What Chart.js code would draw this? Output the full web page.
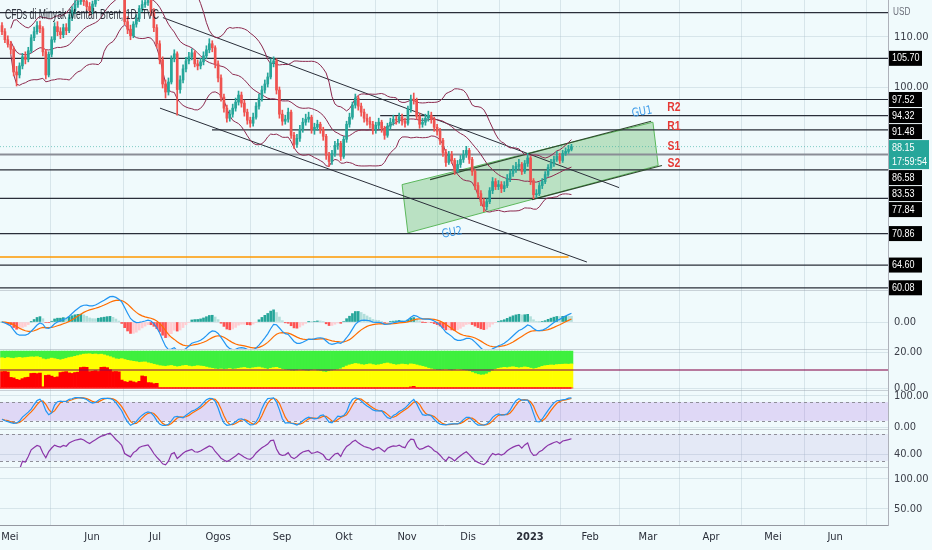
<!DOCTYPE html>
<html><head><meta charset="utf-8">
<script src="https://cdn.jsdelivr.net/npm/chart.js@4.4.1/dist/chart.umd.min.js"></script>
<style>html,body{margin:0;padding:0;background:#f0fafc;}#wrap{position:relative;width:932px;height:550px;}</style>
</head><body><div id="wrap"><canvas id="c"></canvas></div>
<script>
// ---------- DATA ----------
const title = 'CFDs di Minyak Mentah Brent, 1D, TVC';
const firstOpen = 112.2;
const closes = [111,109.4,108.5,107.5,103,102.4,104.2,106,105.5,107.2,
109.8,111,112.2,111.6,107,102.4,106.5,109.4,112,111,
110.4,111.8,111.2,113.8,115.2,116.4,117,117.6,117,116,
115.2,116.5,117.8,119.5,120.8,121.5,122.8,123.6,122.4,121,
119.8,118.2,113,111.5,110.2,112.5,113.6,115.6,116.4,116.8,
117.2,115,111.8,108.6,105.4,100.6,99,101,105.6,106.6,
99.5,101.4,103.6,105.2,106,106.8,104.6,104.2,105,106.2,
107.4,108.6,107.8,104.6,101.8,98,95.8,93.8,94.6,95.8,
97,98.4,96.8,95,93.4,92.8,94,96.2,97.8,99.4,
100.6,102,104.8,105.2,99.4,94.6,93.2,93.6,95,90.4,
88.6,89.8,91.6,93,93.6,94,91.6,92,92.6,91.6,
90.2,86.4,85.2,86.8,88.4,88.8,86.2,89.6,92.6,94,
96.4,97.8,96.2,95,93.8,93.2,92.6,91.4,92.4,93,
91.8,90.4,92.2,93,93.6,93.4,94,93.2,92.8,95.6,
97.6,97.4,94.2,92.6,93,93.8,94.4,93.6,92,91.2,
89.4,87,85,86.6,85.4,83.4,84.6,85.6,86.6,87.4,
85.6,83.2,80.4,78.8,77.2,76.2,77.2,79.4,81.2,80.2,
80.6,79.8,80.4,81.8,82.8,83.6,84.2,84.6,83.2,84.8,
85.9,81.4,78.6,78.8,80.4,81.2,82.6,84,84.8,85.6,
86.2,85.4,86.8,87.2,87.6,88.15];
const highs = [112.8,111.6,110.2,109.1,108,104.1,104.8,106.7,107,107.9,
110.4,111.9,113,113.1,112,107.5,107,110,112.8,113,
111.8,112.5,112.6,114.4,116,117.2,117.9,118.8,118.4,117.8,
116.8,117.1,118.6,120.2,121.6,122.6,123.7,124.6,124.2,123,
121.8,120.4,118.6,114,112.3,113,114.4,116.2,117.2,117.8,
118.2,117.6,115.6,112.4,109.2,106,101.4,101.8,106.2,107.4,
107,102.2,104.4,105.9,106.9,107.6,107.2,105.4,105.7,107,
108.2,109.6,109.2,108.2,105.2,102.4,98.6,96.4,95.4,96.6,
97.8,99.2,99,97.4,95.6,94,94.8,96.9,98.6,100.2,
101.4,102.8,105.6,106,105.6,100,95.4,94.4,95.8,95.4,
91,90.6,92.4,93.8,94.6,95,94.4,92.8,93.4,93,
92,90.6,87,87.4,89.2,89.6,89.2,90.2,93.2,94.8,
97,98.6,98.2,96.8,95.6,94.6,94,93.2,93,93.8,
93.4,92.2,92.8,93.8,94.4,94.2,94.8,94.6,93.8,96.2,
98.4,98.8,97.8,94.8,93.8,94.6,95.2,95,94,92.6,
91.8,89.8,87.6,87.2,87.2,85.8,85.4,86.4,87.4,88.2,
87.8,86,83.6,81,79.4,77.8,77.8,80,82,81.8,
81.4,81.2,81.2,82.6,83.6,84.4,85,85.6,85,85.4,
86.8,86.2,81.8,79.6,81,81.8,83.2,84.6,85.6,86.2,
87.2,86.8,87.4,87.9,88.4,88.6];
const lows = [110.4,108.8,107.9,106.6,102.2,100.2,101.8,103.6,104.6,105,
106.8,109.2,110.5,110.8,106.2,101.6,102,106,108.9,110.2,
109.6,109.8,110.4,110.8,113.2,114.6,115.8,116.4,116.2,115.2,
114.2,114.6,116,117.2,119,120.2,121,122.2,121.6,120.2,
118.9,117.4,112.4,110.6,109.4,109.8,111.9,113,115,115.8,
116.2,114.2,111,107.8,104.6,99.8,97.8,98.4,100.6,105,
94.4,98.8,100.8,103,104.6,105.4,104,103.4,103.6,104.4,
105.6,106.8,107,103.8,101,97.2,95,93,93.2,94,
95.2,96.4,96,94.2,92.6,92,92.2,93.6,95.6,97.2,
98.8,100,101.6,104,98.6,93.8,92.4,92.6,93,89.8,
87.8,88,89.2,91,92.4,93,90.8,90.6,91.4,90.8,
89.4,85.6,84.2,84.6,86.2,87.6,85.4,85.8,89,92,
93.6,95.8,95.4,94.2,93,92.4,91.8,90.6,90.8,91.6,
91,89.6,90,91.6,92.4,92.6,92.8,92.4,92,92.4,
95,96.6,93.6,91.8,92,92.4,93.2,92.8,91.2,90.4,
88.6,86.2,84.2,84.6,84.8,82.6,83,84,85,86,
84.8,82.4,79.6,78,76.4,75.2,75.6,76.8,78.8,79.6,
79.6,79,79.2,80,81.2,82.2,83,83.6,82.6,82.8,
84.2,80.6,77.8,78,78.4,79.8,80.8,82.2,83.4,84.2,
85.2,84.8,85,86.4,86.8,87.3];
// third pane (stacked red / yellow / green)
const yellowTop = [16.8,16.5,16.9,16.6,16.4,16.8,17,16.7,16.9,17.1,
17.3,17.2,17.4,17,16.2,15.8,16.1,16.6,16.3,15.9,
15.6,16,16.4,16.9,17.2,17.6,18,18.4,18.8,18.9,
19,18.7,18.9,18.6,18.8,18.4,17.9,17.4,16.8,16.2,
16,16.3,15.8,15.4,15.1,14.8,14.6,14.2,14.4,14.5,
14,13.6,13.2,12.8,12.4,12.2,12,12.3,12.5,12.1,
11.8,12,12.4,12.6,12.2,11.9,12.1,12.4,12.2,12,
11.6,11.2,10.9,10.6,10.4,10.6,10.3,10.5,10.8,10.4,
10.6,10.9,11.2,11.4,11,10.8,11.2,11.4,11.6,11.2,
10.8,10.4,10.9,11.3,11.5,10.9,10.4,10,9.8,9.6,
9.5,9.7,10,9.8,9.6,9.4,9.8,10,9.6,9.4,
9,8.8,9.2,9.6,9.9,10.2,10.6,11.4,12.2,12.8,
13.2,13.6,13.4,13,12.8,13.1,13.4,13,12.7,12.9,
13.2,13.6,13.9,13.5,13.1,12.8,13,13.3,13.1,12.9,
13.4,13.2,12.8,12.4,12,11.6,11,10.6,10.2,9.9,
9.8,10,10.2,9.9,9.7,10,10.3,10.1,9.8,9.6,
9.2,8.6,8,7.5,7.2,7.3,7.8,8.6,9.6,10.4,
10.9,11.2,11.5,11.3,11.6,11.8,11.5,11.2,11.4,11.7,
11.5,11,10.6,10.9,11.4,12,12.4,12.6,12.8,12.7,
13,13.1,13.2,13.3,13.2,13.4];
const redLevel = [9.1,9.2,8.9,5.9,5.6,4.8,4.4,5.2,5.8,6,
8.1,8.2,8,8.3,0.7,7,7.2,6.6,5.9,6.2,
8.6,8.9,9.1,8.4,8.1,8.6,8.8,11.4,11.6,11.5,
9.1,9.3,9.6,9.2,11.5,11.6,11.3,10.2,9.1,9.2,
9,4.4,3.6,3.2,3.9,3.4,3,3.7,6.7,6.4,
3,2.9,2.4,2.6];
const redBlips = [[140,0.6],[141,0.9]];
const greenTop = 20.5;
// axis
const monthLabels = ['Mei','Jun','Jul','Ogos','Sep','Okt','Nov','Dis','2023','Feb','Mar','Apr','Mei','Jun'];
const monthPos = [2.7,30.8,52.4,74,95.9,117.1,138.7,159.6,180.8,201.4,221.2,242.8,264,285.3];
const xMin = -0.685, xMax = 303.4;
// horizontal levels
const levelPrices = [114.8,105.70,97.52,94.32,91.48,86.58,83.53,77.84,70.86,64.60,60.08];
const levelStart  = [xMin,xMin,xMin,129.5,71.9,xMin,xMin,xMin,xMin,xMin,xMin];
const levelLabelled = [false,true,true,true,true,true,true,true,true,true,true];
const orangeLevel = 66.2, orangeEnd = 194;
const lastPrice = 88.15, countdown = '17:59:54';
// drawn lines: [x0, p0, x1, p1]
const trendLines = [[55.1,113.8,211.3,80.0],[54.1,95.8,200.3,65.2]];
const guLines = [[146.6,81.6,222.3,93.2],[181.5,77.6,226,84.4]];
const channelPoly = [[137,80.6],[222.9,93],[224.7,84.4],[139,71]];
const noteTexts = ['R2','R1','S1','S2'];
const notePrices = [96,92.2,88.2,84.8];
const noteX = 230.1;
const guTexts = ['GU1','GU2'];
const guPos = [[219.2,95],[154.1,71]];
// pane tick labels
const ticksMain = [110,100], ticksMacd = [0], ticksP3 = [20,0], ticksStoch = [100,0], ticksRsi = [40], ticksEmpty = [100,50];

// ---------- derived ----------
const N = closes.length;
const idx = closes.map((_, i) => i);
const opens = closes.map((c, i) => i === 0 ? firstOpen : closes[i - 1]);
const UP = '#26a69a', DN = '#ef5350';
const cCol = closes.map((c, i) => c >= opens[i] ? UP : DN);
function ema(a, n) { const k = 2 / (n + 1), o = []; a.forEach((v, i) => o.push(i === 0 ? v : v * k + o[i - 1] * (1 - k))); return o; }
function sma(a, n) { return a.map((v, i) => { const w = a.slice(Math.max(0, i - n + 1), i + 1); return w.reduce((s, x) => s + x, 0) / w.length; }); }
const e12 = ema(closes, 12), e26 = ema(closes, 26);
const macd = e12.map((v, i) => v - e26[i]);
const sig = ema(macd, 9);
const hist = macd.map((v, i) => v - sig[i]);
const histCol = hist.map((h, i) => { const p = i ? hist[i - 1] : 0; return h >= 0 ? (h >= p ? '#26a69a' : '#b2dfdb') : (h < p ? '#ff5252' : '#ffcdd2'); });
const rawK = closes.map((c, i) => { const s = Math.max(0, i - 13); const hh = Math.max(...highs.slice(s, i + 1)); const ll = Math.min(...lows.slice(s, i + 1)); return hh === ll ? 50 : 100 * (c - ll) / (hh - ll); });
const stK = sma(rawK, 3), stD = sma(stK, 3);
const rsi = []; { let ag = 0, al = 0; closes.forEach((c, i) => { if (i === 0) { rsi.push(null); return; } const d = c - closes[i - 1], g = Math.max(d, 0), l = Math.max(-d, 0); if (i <= 14) { ag = (ag * (i - 1) + g) / i; al = (al * (i - 1) + l) / i; } else { ag = (ag * 13 + g) / 14; al = (al * 13 + l) / 14; } rsi.push(i < 3 ? null : (al === 0 ? 100 : 100 - 100 / (1 + ag / al))); }); }
const bbU = [], bbM = [], bbL = [];
closes.forEach((c, i) => { if (i < 3) { bbU.push(null); bbM.push(null); bbL.push(null); return; } const w = closes.slice(Math.max(0, i - 19), i + 1); const m = w.reduce((s, x) => s + x, 0) / w.length; const sd = Math.sqrt(w.reduce((s, x) => s + (x - m) * (x - m), 0) / w.length); bbU.push(m + 2 * sd); bbM.push(m); bbL.push(m - 2 * sd); });
const redAt = idx.map(i => { const b = redBlips.find(r => r[0] === i); return b ? b[1] : (i < redLevel.length ? redLevel[i] : 0); });

// ---------- chart ----------
const FONT = "'Liberation Sans Narrow','DejaVu Sans Condensed','Liberation Sans',sans-serif";
const MAROON = '#8d2a4f';
const pts = arr => arr.map((v, i) => ({ x: i, y: v }));
const seg = (l, axis, color, w, order) => ({ type: 'line', data: [{ x: l[0], y: l[1] }, { x: l[2], y: l[3] }], yAxisID: axis, borderColor: color, borderWidth: w, pointRadius: 0, order });
const lineDs = (data, axis, color, w, order, dash) => ({ type: 'line', data, yAxisID: axis, borderColor: color, borderWidth: w, pointRadius: 0, order: order || 0, borderDash: dash || [], spanGaps: false, tension: 0 });
const barDs = (data, axis, color, thick, order) => ({ type: 'bar', data, yAxisID: axis, backgroundColor: color, barThickness: thick, grouped: false, order: order || 0, borderWidth: 0 });

const datasets = [
  barDs(idx.map(i => ({ x: i, y: [opens[i], closes[i]] })), 'yMain', cCol, 2, 0),
  barDs(idx.map(i => ({ x: i, y: [lows[i], highs[i]] })), 'yMain', cCol, 1, 1),
  lineDs(pts(bbU), 'yMain', MAROON, 1, 2),
  lineDs(pts(bbM), 'yMain', MAROON, 1, 2),
  lineDs(pts(bbL), 'yMain', MAROON, 1, 2),
  ...trendLines.map(l => seg(l, 'yMain', '#2a2e39', 1, 3)),
  ...guLines.map(l => seg(l, 'yMain', '#2f4a2f', 1.2, 3)),
  ...levelPrices.map((p, k) => seg([levelStart[k], p, xMax, p], 'yMain', k === 5 ? '#8a8d96' : '#2a2e39', k === 5 ? 2 : 1.2, 4)),
  seg([xMin, orangeLevel, orangeEnd, orangeLevel], 'yMain', '#ff9800', 1.5, 4),
  lineDs([{ x: xMin, y: lastPrice }, { x: xMax, y: lastPrice }], 'yMain', 'rgba(38,166,154,0.55)', 1, 4, [1, 2]),
  // MACD
  lineDs(pts(macd), 'yMacd', '#2196f3', 1.2, 0),
  lineDs(pts(sig), 'yMacd', '#ff6d00', 1.2, 0),
  barDs(idx.map(i => ({ x: i, y: [0, hist[i]] })), 'yMacd', histCol, 2, 1),
  // third pane
  lineDs([{ x: xMin, y: 0 }, { x: N - 1, y: 0 }], 'yP3', '#ff1a1a', 1.5, 0),
  lineDs([{ x: xMin, y: 10 }, { x: xMax, y: 10 }], 'yP3', 'rgba(136,14,79,0.55)', 2, 0),
  barDs(idx.map(i => ({ x: i, y: [0, redAt[i]] })), 'yP3', '#ff0000', 3, 5),
  barDs(idx.map(i => ({ x: i, y: [redAt[i], yellowTop[i]] })), 'yP3', '#ffff00', 3, 5),
  barDs(idx.map(i => ({ x: i, y: [yellowTop[i], greenTop] })), 'yP3', '#3ef03e', 3, 5),
  // stochastic
  lineDs(pts(stK), 'yStoch', '#2196f3', 1.2, 0),
  lineDs(pts(stD), 'yStoch', '#ff6d00', 1.2, 0),
  // RSI
  lineDs(pts(rsi), 'yRsi', '#8b35a8', 1.2, 0)
];

function drawText(ctx, s, x, y, o) {
  ctx.save(); ctx.font = o.font; ctx.fillStyle = o.color; ctx.textBaseline = 'middle'; ctx.textAlign = o.align || 'left';
  ctx.translate(x, y); if (o.rot) ctx.rotate(o.rot); ctx.scale(o.sx || 0.8, 1); ctx.fillText(s, 0, 0); ctx.restore();
}
const paneClip = {
  id: 'paneClip',
  beforeDatasetDraw(chart, args) { const sc = args.meta.yScale, a = chart.chartArea, ctx = chart.ctx; ctx.save(); ctx.beginPath(); ctx.rect(a.left, sc.top, a.right - a.left, sc.bottom - sc.top); ctx.clip(); },
  afterDatasetDraw(chart) { chart.ctx.restore(); }
};
const under = {
  id: 'under',
  beforeDraw(chart) { const ctx = chart.ctx; ctx.save(); ctx.fillStyle = '#f0fafc'; ctx.fillRect(0, 0, chart.width, chart.height); ctx.restore(); },
  beforeDatasetsDraw(chart) {
    const ctx = chart.ctx, x = chart.scales.x, ym = chart.scales.yMain, a = chart.chartArea;
    ctx.save();
    ctx.beginPath(); ctx.rect(a.left, ym.top, a.right - a.left, ym.bottom - ym.top); ctx.clip();
    ctx.beginPath();
    channelPoly.forEach((p, k) => { const px = x.getPixelForValue(p[0]), py = ym.getPixelForValue(p[1]); k ? ctx.lineTo(px, py) : ctx.moveTo(px, py); });
    ctx.closePath(); ctx.fillStyle = 'rgba(76,175,80,0.33)'; ctx.fill(); ctx.strokeStyle = '#5cb85c'; ctx.lineWidth = 1; ctx.stroke();
    ctx.restore();
    const band = (sc, hi, lo, fill) => { const y1 = sc.getPixelForValue(hi), y2 = sc.getPixelForValue(lo); ctx.save(); ctx.fillStyle = fill; ctx.fillRect(a.left, y1, a.right - a.left, y2 - y1); ctx.strokeStyle = '#8f8f99'; ctx.setLineDash([3, 3]); ctx.lineWidth = 1; [y1, y2].forEach(yy => { ctx.beginPath(); ctx.moveTo(a.left, Math.round(yy) + 0.5); ctx.lineTo(a.right, Math.round(yy) + 0.5); ctx.stroke(); }); ctx.restore(); };
    band(chart.scales.yStoch, 80, 20, 'rgba(150,60,220,0.18)');
    band(chart.scales.yRsi, 70, 30, 'rgba(126,87,194,0.10)');
  },
  afterDatasetsDraw(chart) {
    const ctx = chart.ctx, x = chart.scales.x, ym = chart.scales.yMain, a = chart.chartArea;
    ctx.save(); ctx.strokeStyle = 'rgba(150,160,170,0.45)'; ctx.lineWidth = 1;
    ['yMain', 'yMacd', 'yP3', 'yStoch', 'yRsi'].forEach(id => { const b = Math.round(chart.scales[id].bottom) + 0.5; ctx.beginPath(); ctx.moveTo(a.left, b); ctx.lineTo(a.right, b); ctx.stroke(); });
    ctx.restore();
    ctx.save(); ctx.font = '14px "Liberation Sans", sans-serif'; const tw = ctx.measureText(title).width; ctx.restore();
    drawText(ctx, title, 5, 15, { font: '14px "Liberation Sans", sans-serif', color: 'rgba(19,23,34,0.88)', sx: 154 / tw });
    noteTexts.forEach((t, k) => drawText(ctx, t, x.getPixelForValue(noteX), ym.getPixelForValue(notePrices[k]), { font: 'bold 13px "Liberation Sans", sans-serif', color: '#e53935', align: 'center', sx: 0.8 }));
    guTexts.forEach((t, k) => drawText(ctx, t, x.getPixelForValue(guPos[k][0]), ym.getPixelForValue(guPos[k][1]), { font: '12px "DejaVu Sans", sans-serif', color: '#3d9be9', align: 'center', sx: 0.8, rot: -0.18 }));
  },
  afterDraw(chart) {
    const ctx = chart.ctx, ym = chart.scales.yMain, R = chart.chartArea.right;
    const items = [];
    levelPrices.forEach((p, k) => { if (levelLabelled[k]) items.push({ p, h: 15, w: 33, lines: [p.toFixed(2)], bg: '#000' }); });
    items.push({ p: lastPrice, h: 29, w: 40, lines: [lastPrice.toFixed(2), countdown], bg: '#26a69a', cur: true });
    items.forEach(it => { const py = ym.getPixelForValue(it.p); it.want = it.cur ? py - 7 : py - it.h / 2; });
    items.sort((p, q) => p.want - q.want);
    let prev = -1e9;
    items.forEach(it => { it.top = Math.max(it.want, prev + 1); prev = it.top + it.h; });
    items.forEach(it => {
      ctx.fillStyle = it.bg; ctx.fillRect(R + 1, it.top, it.w, it.h);
      it.lines.forEach((t, k) => drawText(ctx, t, R + 4, it.top + 7.5 + k * 14, { font: '11px "Liberation Sans", sans-serif', color: '#fff', sx: 0.82 }));
    });
    drawText(ctx, 'USD', R + 5, 12, { font: '10px "Liberation Sans", sans-serif', color: '#6a6d78', sx: 0.82 });
  }
};

function yAxis(min, max, weight, tickVals, grid) {
  return {
    type: 'linear', position: 'right', stack: 'panes', stackWeight: weight, min, max, offset: false,
    afterBuildTicks: s => { s.ticks = tickVals.map(v => ({ value: v })); },
    afterFit: s => { s.width = 44; s.paddingTop = 0; s.paddingBottom = 0; },
    ticks: { autoSkip: false, padding: 6, color: '#3b3e48', font: { family: FONT, size: 11 }, callback: v => Number(v).toFixed(2) },
    grid: { display: grid !== false, drawTicks: false, color: 'rgba(170,190,200,0.35)' },
    border: { display: true, color: '#aeb1ba' }
  };
}

new Chart(document.getElementById('c'), {
  type: 'line',
  data: { datasets },
  plugins: [paneClip, under],
  options: {
    responsive: true, maintainAspectRatio: false, animation: false, events: [],
    layout: { padding: 0 },
    plugins: { legend: { display: false }, tooltip: { enabled: false } },
    scales: {
      x: {
        type: 'linear', min: xMin, max: xMax, offset: false, position: 'bottom',
        afterBuildTicks: s => { s.ticks = monthPos.map(v => ({ value: v })); },
        afterFit: s => { s.height = 25; s.paddingLeft = 0; s.paddingRight = 0; },
        ticks: { autoSkip: false, maxRotation: 0, padding: 6, color: '#2a2e39',
          font: c => ({ family: FONT, size: 11, weight: monthLabels[c.index] === '2023' ? 'bold' : 'normal' }),
          callback: (v, i) => monthLabels[i] },
        grid: { drawTicks: false, color: 'rgba(170,190,200,0.35)' },
        border: { display: true, color: '#9598a1' }
      },
      yMain: yAxis(59.64, 117.3, 290, ticksMain),
      yMacd: yAxis(-3.375, 4.0, 59, ticksMacd),
      yP3: yAxis(-1.11, 21.67, 41, ticksP3),
      yStoch: yAxis(-6.45, 119.35, 39, ticksStoch),
      yRsi: yAxis(21.1, 77.4, 38, ticksRsi),
      yEmpty: yAxis(23.3, 120, 58, ticksEmpty)
    }
  }
});
</script></body></html>
